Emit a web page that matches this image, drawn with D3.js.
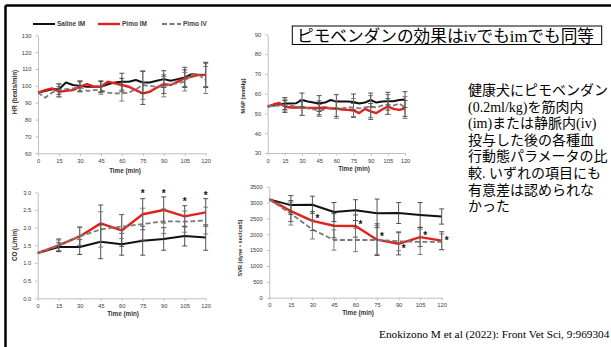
<!DOCTYPE html>
<html><head><meta charset="utf-8">
<script src="https://cdn.jsdelivr.net/npm/d3@7"></script>
<style>body{margin:0;background:#fff}svg{display:block}</style>
</head><body>
<svg id="c" width="611" height="347"></svg>
<script>
// ---------- data ----------
const seriesNames = ["Saline IM", "Pimo IM", "Pimo IV"];
const minutes5 = [0,5,10,15,20,25,30,35,40,45,50,55,60,65,70,75,80,85,90,95,100,105,110,115,120];
const minutes15 = [0,15,30,45,60,75,90,105,120];
const errMinutes = [15,30,45,60,75,90,105,120];
const xTickLabels = [0,15,30,45,60,75,90,105,120];

const hrSaline = [96,97,98,98,102,100.5,100,99.5,99.5,99.5,101,102,102.5,102.5,103.5,102,102,103,104,103,104,105,107,106.5,106.5];
const hrPimoIM = [96,97.5,98.5,96.5,97,97.5,99.5,101,99.5,99.5,102.5,101.5,100.5,99.5,97.5,95.5,96.5,99,101,100.5,102.5,104.5,105.5,106.5,106.5];
const hrPimoIV = [96,93,96,97.5,98,98.5,99.5,97,97.5,97.5,96,95.5,95.5,96,98,100.5,100,99.5,99.5,101,101.5,102.5,107,106.5,103.5];
const hrSalineSD = [3,3,3.5,5,6.5,5,6,7.5];
const hrPimoIMSD = [3,3,3,4,6.5,5.5,5,7];
const hrPimoIVSD = [4,3,2.5,4.5,8.5,6,5.5,8];
const hrTicks = [60,70,80,90,100,110,120,130];

const mapSaline = [53.5,54,54.5,55,55,55.2,56.8,56,55.5,55,55.5,56.8,56,56,56,55.8,55,55.5,56.8,55.5,56,56.2,56.2,56.8,57];
const mapPimoIM = [53.5,54.5,55.3,53.5,53,53,53,52.8,52.8,52.8,53,52.5,52.5,52,51.8,51.5,50.2,52.3,51,50.2,52,53.5,52.3,51.8,52.5];
const mapPimoIV = [53.5,53.8,54,54.2,54,53.5,53,52.5,52,51.5,52,53,52,52.5,53,53,52.5,53,53.5,53,54,54.5,54,55,53];
const mapSalineSD = [3,3.5,4,3.5,4,3.5,4.5,4];
const mapPimoIMSD = [3,4,3.5,4,3.5,4,4,4];
const mapPimoIVSD = [3,4,3,4.5,4.5,5.5,5,5.5];
const mapTicks = [30,40,50,60,70,80,90];

const coSaline = [1.28,1.45,1.45,1.6,1.53,1.63,1.68,1.76,1.72];
const coPimoIM = [1.28,1.5,1.75,2.12,1.92,2.38,2.5,2.32,2.43];
const coPimoIV = [1.28,1.5,1.75,1.95,2.03,2.1,2.18,2.17,2.2];
const coSalineSD = [0.12,0.21,0.48,0.31,0.41,0.32,0.28,0.36];
const coPimoIMSD = [0.18,0.27,0.52,0.45,0.44,0.37,0.3,0.39];
const coPimoIVSD = [0.15,0.25,0.5,0.34,0.45,0.35,0.3,0.38];
const coTicks = [0,0.5,1,1.5,2,2.5,3];
const coStarMinutes = [75,90,105,120];
const coStarValues = [3.0,3.0,2.77,2.95];

const svrSaline = [3100,2920,2930,2700,2760,2660,2670,2610,2560];
const svrPimoIM = [3100,2730,2420,2270,2260,1830,1700,1910,1800];
const svrPimoIV = [3100,2650,2150,1820,1820,1820,1780,1760,1760];
const svrSalineSD = [300,270,300,330,450,330,390,240];
const svrPimoIMSD = [330,300,380,350,500,350,300,280];
const svrPimoIVSD = [360,300,320,370,450,300,400,250];
const svrTicks = [0,500,1000,1500,2000,2500,3000,3500];
const svrStarMinutes = [30,60,75,90,105,120];
const svrStarValues = [2530,2330,1950,1575,1990,1835];

const titleText = "ピモベンダンの効果はivでもimでも同等";
const bodyLines = ["健康犬にピモベンダン","(0.2ml/kg)を筋肉内","(im)または静脈内(iv)","投与した後の各種血","行動態パラメータの比","較. いずれの項目にも","有意差は認められな","かった"];
const citation = "Enokizono M et al (2022): Front Vet Sci, 9:969304";

// ---------- drawing ----------
const svg = d3.select("#c");
const SANS = "'Liberation Sans', Arial, sans-serif";
const MIX = "'Liberation Serif', 'Noto Sans CJK JP', serif";
const colors = ["#111111", "#e3211c", "#7a7a7a"];
const widths = [2, 2.4, 1.8];
const dashes = [null, null, "5,2.5"];

// frame
svg.append("line").attr("x1",5.5).attr("x2",611).attr("y1",5.5).attr("y2",5.5).attr("stroke","#000").attr("stroke-width",2.5);
svg.append("line").attr("x1",5.5).attr("x2",5.5).attr("y1",5.5).attr("y2",347).attr("stroke","#000").attr("stroke-width",2.5);

// legend
const legX = [[33,55,57],[98,120,122],[162,181,183]];
seriesNames.forEach((n,i)=>{
  svg.append("line").attr("x1",legX[i][0]).attr("x2",legX[i][1]).attr("y1",24).attr("y2",24)
    .attr("stroke",colors[i]).attr("stroke-width",widths[i]).attr("stroke-dasharray",dashes[i]);
  svg.append("text").attr("x",legX[i][2]).attr("y",26.3).text(n)
    .attr("font-family",SANS).attr("font-size",6.5).attr("font-weight","bold").attr("fill","#404040");
});

function panel(o){
  const x = d3.scaleLinear().domain([0,120]).range([o.x0,o.x1]);
  const y = d3.scaleLinear().domain(o.yDomain).range([o.yBot,o.yTop]);
  const g = svg.append("g");
  const ax = g.append("g").attr("transform",`translate(0,${o.yBot})`)
    .call(d3.axisBottom(x).tickValues(xTickLabels).tickSize(2.5).tickSizeOuter(0).tickPadding(3));
  const ay = g.append("g").attr("transform",`translate(${o.x0},0)`)
    .call(d3.axisLeft(y).tickValues(o.yTicks).tickSize(2.5).tickSizeOuter(0).tickPadding(4).tickFormat(o.fmt));
  [ax,ay].forEach(a=>{
    a.select(".domain").attr("stroke","#bfbfbf").attr("stroke-width",1);
    a.selectAll(".tick line").attr("stroke","#bfbfbf");
    a.selectAll("text").attr("font-family",SANS).attr("font-size",5.8).attr("fill","#404040");
  });
  const line = d3.line().x(d=>x(d[0])).y(d=>y(d[1]));
  o.series.forEach((vals,i)=>{
    g.append("path").datum(o.times.map((t,k)=>[t,vals[k]]))
      .attr("d",line).attr("fill","none").attr("stroke",colors[i])
      .attr("stroke-width",widths[i]).attr("stroke-dasharray",dashes[i]).attr("stroke-linejoin","round");
  });
  // error bars
  o.series.forEach((vals,i)=>{
    errMinutes.forEach((t,k)=>{
      const v = vals[o.times.indexOf(t)], sd = o.sds[i][k];
      const xx = x(t);
      const eg = g.append("g").attr("stroke", i===2 ? "#707070" : "#404040").attr("stroke-width",0.9);
      eg.append("line").attr("x1",xx).attr("x2",xx).attr("y1",y(v-sd)).attr("y2",y(v+sd));
      eg.append("line").attr("x1",xx-2.5).attr("x2",xx+2.5).attr("y1",y(v-sd)).attr("y2",y(v-sd));
      eg.append("line").attr("x1",xx-2.5).attr("x2",xx+2.5).attr("y1",y(v+sd)).attr("y2",y(v+sd));
    });
  });
  if(o.starT){
    o.starT.forEach((t,k)=>{
      g.append("text").attr("x",x(t)+o.starDx).attr("y",y(o.starV[k])+4.5).attr("text-anchor","middle")
        .attr("font-family",SANS).attr("font-size",10).attr("font-weight","bold").attr("fill","#111").text("*");
    });
  }
  g.append("text").attr("x",o.timeCx).attr("y",o.timeY).attr("text-anchor","middle")
    .attr("font-family",SANS).attr("font-size",6.3).attr("font-weight","bold").attr("fill","#333").text("Time (min)");
  g.append("text").attr("transform",`translate(${o.titleX},${o.titleY}) rotate(-90)`).attr("text-anchor","middle")
    .attr("font-family",SANS).attr("font-size",o.titleSize||6.3).attr("font-weight","bold").attr("fill","#333").text(o.yTitle);
}

panel({x0:38,x1:205.7,yTop:35.3,yBot:153.3,yDomain:[60,130],yTicks:hrTicks,fmt:d3.format("d"),
  times:minutes5,series:[hrSaline,hrPimoIM,hrPimoIV],sds:[hrSalineSD,hrPimoIMSD,hrPimoIVSD],
  timeCx:125,timeY:173,titleX:17,titleY:92,yTitle:"HR (beats/min)"});
panel({x0:267.7,x1:405,yTop:34.3,yBot:153,yDomain:[30,90],yTicks:mapTicks,fmt:d3.format("d"),
  times:minutes5,series:[mapSaline,mapPimoIM,mapPimoIV],sds:[mapSalineSD,mapPimoIMSD,mapPimoIVSD],
  timeCx:354,timeY:171,titleX:245,titleY:96,yTitle:"MAP (mmHg)",titleSize:5.6});
panel({x0:37.7,x1:205.7,yTop:192.3,yBot:298.3,yDomain:[0,3],yTicks:coTicks,fmt:d3.format(".1f"),
  times:minutes15,series:[coSaline,coPimoIM,coPimoIV],sds:[coSalineSD,coPimoIMSD,coPimoIVSD],
  starT:coStarMinutes,starV:coStarValues,starDx:0,
  timeCx:123,timeY:315.5,titleX:17,titleY:245,yTitle:"CO (L/min)"});
panel({x0:269.3,x1:441.7,yTop:186.7,yBot:297.7,yDomain:[0,3500],yTicks:svrTicks,fmt:d3.format("d"),
  times:minutes15,series:[svrSaline,svrPimoIM,svrPimoIV],sds:[svrSalineSD,svrPimoIMSD,svrPimoIVSD],
  starT:svrStarMinutes,starV:svrStarValues,starDx:5,
  timeCx:358,timeY:315,titleX:242,titleY:248,yTitle:"SVR (dyne • sec/cm5)",titleSize:5.6});

// title box
svg.append("rect").attr("x",292.3).attr("y",26).attr("width",309.4).attr("height",18.5)
  .attr("fill","#fff").attr("stroke","#000").attr("stroke-width",1);
svg.append("text").attr("x",297).attr("y",41.5).attr("font-family",MIX).attr("font-size",16.5)
  .attr("textLength",297).attr("lengthAdjust","spacingAndGlyphs").attr("fill","#000").text(titleText);

// body text
bodyLines.forEach((s,i)=>{
  svg.append("text").attr("x",468).attr("y",95+i*16.6).attr("font-family",MIX).attr("font-size",14)
    .attr("fill","#000").text(s);
});

svg.append("text").attr("x",379).attr("y",337.5).attr("font-family","'Liberation Serif', serif").attr("font-size",11.3)
  .attr("fill","#000").text(citation);
</script>
</body></html>
